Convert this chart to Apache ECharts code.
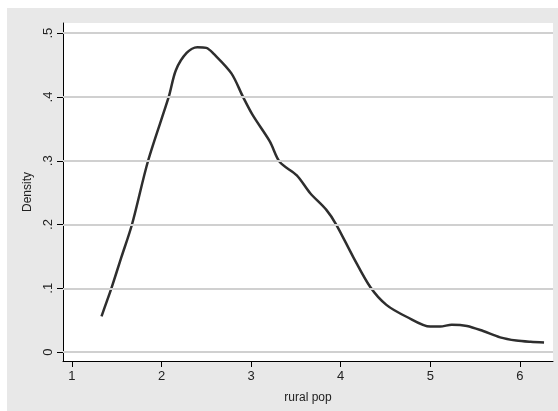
<!DOCTYPE html>
<html>
<head>
<meta charset="utf-8">
<script src="https://cdn.jsdelivr.net/npm/echarts@6/dist/echarts.min.js"></script>
<style>
  html, body { margin: 0; padding: 0; background: #fff; }
  #wrap { position: relative; width: 558px; height: 411px; background: #fff; }
  #chart { position: absolute; left: 7px; top: 8px; width: 551px; height: 403px; background: #e8e8e8; }
</style>
</head>
<body>
<div id="wrap"><div id="chart"></div></div>
<script>
// kernel density of rural pop
const ruralPop = [1.33, 1.39, 1.44, 1.55, 1.67, 1.85, 2.08, 2.16, 2.28, 2.40, 2.50, 2.58, 2.78, 2.91, 3.02, 3.21, 3.32, 3.51, 3.66, 3.84, 3.95, 4.14, 4.33, 4.51, 4.74, 5.00, 5.11, 5.24, 5.41, 5.59, 5.78, 5.96, 6.12, 6.27];
const density = [0.056, 0.080, 0.100, 0.148, 0.200, 0.300, 0.400, 0.442, 0.469, 0.478, 0.477, 0.468, 0.437, 0.400, 0.371, 0.330, 0.298, 0.277, 0.249, 0.223, 0.200, 0.149, 0.102, 0.074, 0.055, 0.040, 0.040, 0.043, 0.041, 0.033, 0.023, 0.018, 0.016, 0.015];
const xTicks = [1, 2, 3, 4, 5, 6];
const yTicks = [0, 0.1, 0.2, 0.3, 0.4, 0.5];

const chart = echarts.init(document.getElementById("chart"));
const font = "Liberation Sans, Arial, sans-serif";

chart.setOption({
  animation: false,
  backgroundColor: "#e8e8e8",
  grid: {
    left: 56, top: 15, right: 5, bottom: 50,
    show: true, backgroundColor: "#fff", borderWidth: 0
  },
  xAxis: {
    type: "value",
    min: 0.9, max: 6.37,
    name: "rural pop",
    nameLocation: "middle",
    nameGap: 31,
    nameTextStyle: { fontFamily: font, fontSize: 12, color: "#222" },
    axisLine: { onZero: false, lineStyle: { color: "#000", width: 1 } },
    axisTick: { length: 6, lineStyle: { color: "#000" }, customValues: xTicks },
    axisLabel: { customValues: xTicks, margin: 9, fontFamily: font, fontSize: 13, color: "#222" },
    splitLine: { show: false }
  },
  yAxis: {
    type: "value",
    min: -0.014, max: 0.516,
    name: "Density",
    nameLocation: "middle",
    nameRotate: 90,
    nameGap: 27,
    nameTextStyle: { fontFamily: font, fontSize: 12, color: "#222" },
    axisLine: { show: true, onZero: false, lineStyle: { color: "#000", width: 1 } },
    axisTick: { show: true, length: 6, lineStyle: { color: "#000" }, customValues: yTicks },
    axisLabel: {
      customValues: yTicks, rotate: 90, margin: 8,
      fontFamily: font, fontSize: 13, color: "#222",
      formatter: v => v === 0 ? "0" : String(Math.round(v * 10) / 10).replace(/^0/, "")
    },
    splitLine: { show: false }
  },
  series: [{
    type: "line",
    data: ruralPop.map((x, i) => [x, density[i]]),
    smooth: 0.3,
    showSymbol: false,
    lineStyle: { color: "#2e2e2e", width: 2.5 },
    markLine: {
      silent: true,
      symbol: "none",
      label: { show: false },
      lineStyle: { color: "#d0d0d0", width: 2, type: "solid" },
      data: yTicks.map(v => ({ yAxis: v }))
    },
    z: 3
  }]
});
</script>
</body>
</html>
